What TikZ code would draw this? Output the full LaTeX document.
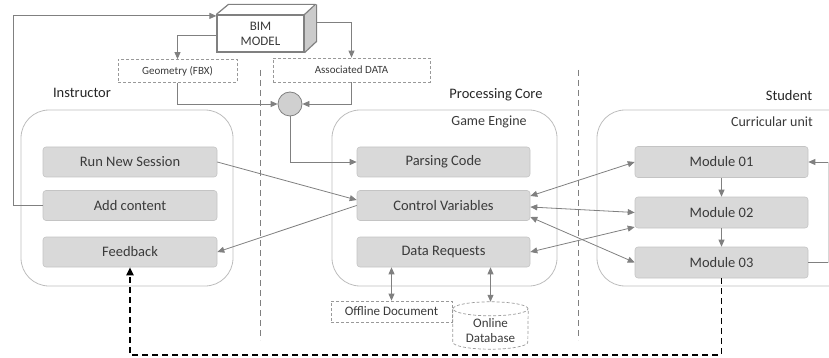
\documentclass[tikz,border=0pt]{standalone}
\usepackage{fontspec}
\setmainfont{Carlito}
\usetikzlibrary{arrows.meta,calc}
\definecolor{boxfill}{HTML}{D9D9D9}
\definecolor{boxline}{HTML}{C4C4C4}
\definecolor{txtgray}{HTML}{3A3A3A}
\definecolor{lngray}{HTML}{808080}
\definecolor{contline}{HTML}{BDBDBD}
\begin{document}
\begin{tikzpicture}[x=1pt,y=-1pt,
  stepbox/.style={rectangle, rounded corners=3pt, fill=boxfill, draw=boxline, line width=0.6pt,
    minimum width=173pt, minimum height=30pt, inner sep=0pt, text=txtgray,
    font=\fontsize{14.5}{16}\selectfont},
  container/.style={rectangle, rounded corners=28pt, draw=contline, line width=0.8pt,
    minimum height=176pt, inner sep=0pt},
  dashbox/.style={rectangle, draw=lngray!80, dash pattern=on 3pt off 2pt, line width=0.7pt,
    inner sep=0pt, text=txtgray, font=\fontsize{11}{13}\selectfont},
  sect/.style={font=\fontsize{14.5}{16}\selectfont, text=black!85},
  sub/.style={font=\fontsize{14}{16}\selectfont, text=txtgray},
  garrow/.style={draw=lngray, line width=0.8pt, -{Triangle[length=7pt,width=6pt]}, color=lngray},
  darrow/.style={draw=lngray, line width=0.8pt, {Triangle[length=7pt,width=6pt]}-{Triangle[length=7pt,width=6pt]}, color=lngray},
  gline/.style={draw=lngray, line width=0.8pt},
  sepline/.style={draw=lngray, line width=1pt, dash pattern=on 6pt off 4pt},
  blackdash/.style={draw=black, line width=1.8pt, dash pattern=on 6pt off 4pt, -{Triangle[length=8pt,width=7pt]}}
]
\useasboundingbox (0,0) rectangle (829,358);
\clip (0,0) rectangle (829,358);

% separators
\coordinate (s1t) at (260,70); \coordinate (s1b) at (260,340);
\coordinate (s2t) at (578,70); \coordinate (s2b) at (578,340);
\draw[sepline] (s1t) -- (s1b);
\draw[sepline] (s2t) -- (s2b);

% containers
\node[container, minimum width=212pt] (cinst) at (127,198) {};
\node[container, minimum width=225pt] (cproc) at (444.5,198) {};
\node[container, minimum width=263pt] (cstud) at (728.5,198) {};

% section labels
\node[sect] (linst) at (82,93) {Instructor};
\node[sect] (lproc) at (496,95) {Processing Core};
\node[sect] (lstud) at (789,96) {Student};
\node[sub] (lge) at (489,122) {Game Engine};
\node[sub] (lcu) at (772,122) {Curricular unit};

% instructor boxes
\node[stepbox, minimum width=174pt] (rns) at (130,162) {Run New Session};
\node[stepbox, minimum width=174pt] (add) at (130,205.5) {Add content};
\node[stepbox, minimum width=174pt] (fb) at (130,252) {Feedback};

% processing boxes
\node[stepbox] (pc) at (443.5,162) {Parsing Code};
\node[stepbox] (cv) at (443.5,205.5) {Control Variables};
\node[stepbox] (dr) at (443.5,252) {Data Requests};

% modules
\node[stepbox, minimum height=31pt] (m1) at (721.5,162) {Module 01};
\node[stepbox, minimum height=31pt] (m2) at (721.5,212.5) {Module 02};
\node[stepbox, minimum height=31pt] (m3) at (721.5,262.5) {Module 03};

% BIM model box
\fill[white] (217,15) -- (229,5) -- (316,5) -- (304,15) -- cycle;
\fill[boxfill!85!gray] (304,15) -- (316,5) -- (316,42) -- (304,52) -- cycle;
\node[rectangle, draw=lngray, line width=1.2pt, fill=white, minimum width=87pt, minimum height=37pt,
  inner sep=0pt, align=center, text=txtgray, font=\fontsize{13}{15}\selectfont] (bim) at (260.5,33.5) {BIM\\MODEL};
\draw[lngray, line width=1.2pt, line join=round] (bim.north west) -- ++(12,-10) -- ++(87,0) -- (bim.north east);
\draw[lngray, line width=1.2pt, line join=round] ($(bim.north east)+(12,-10)$) -- ++(0,37) -- (bim.south east);

% geometry / data
\node[dashbox, minimum width=119pt, minimum height=23pt] (geo) at (177.5,71) {Geometry (FBX)};
\node[dashbox, minimum width=157pt, minimum height=24pt] (data) at (351.5,70) {Associated DATA};
\node[circle, draw=lngray, fill=boxfill!90!gray, line width=0.8pt, minimum size=24pt, inner sep=0pt] (circ) at (290,104) {};

\coordinate (bimside) at (316,22);
\coordinate (lc) at (13,100);
\draw[garrow] ([yshift=-1.5pt]bim.west) -| (geo.north);
\draw[garrow] (bimside) -| (data.north);
\draw[garrow] (geo.south) |- (circ.west);
\draw[garrow] (data.south) |- (circ.east);
\draw[garrow] (circ.south) |- (pc.west);
\draw[garrow] (add.west) -- (add.west -| lc) |- ([yshift=-1.5pt]bim.north west);

% instructor <-> processing
\draw[garrow] (rns.east) -- ([yshift=5.5pt]cv.west);
\draw[garrow] (cv.west) -- (fb.east);

% processing <-> modules
\draw[darrow] ([yshift=9.5pt]cv.east) -- (m1.west);
\draw[darrow] ([yshift=-1.5pt]cv.east) -- (m2.west);
\draw[darrow] ([yshift=-11.5pt]cv.east) -- (m3.west);
\draw[darrow] (dr.east) -- ([yshift=-14.5pt]m2.west);

% module chain
\draw[garrow] (m1.south) -- (m2.north);
\draw[garrow] (m2.south) -- (m3.north);
\coordinate (rc) at (828,200);
\draw[gline] (m3.east) -- (m3.east -| rc);
\draw[draw=contline!60, line width=0.4pt] (m3.east -| rc) -- (m1.east -| rc);
\draw[garrow] (m1.east -| rc) -- (m1.east);

% external data
\node[dashbox, minimum width=121pt, minimum height=21pt, font=\fontsize{13}{15}\selectfont] (off) at (391.5,311.5) {Offline Document};
\node[rectangle, minimum width=75pt, minimum height=47pt, inner sep=0pt] (db) at (490.5,325.5) {};
\node[align=center, text=txtgray, font=\fontsize{13}{15}\selectfont, inner sep=0pt] (dbtext) at (490.5,331) {Online\\Database};
\draw[lngray!80, dash pattern=on 3pt off 2pt, line width=0.7pt] ([yshift=-7pt]db.north) ellipse [x radius=37.5pt, y radius=7pt];
\draw[lngray!80, dash pattern=on 3pt off 2pt, line width=0.7pt] ([yshift=-7pt]db.north west) -- ([yshift=7pt]db.south west)
  arc[start angle=180, end angle=360, x radius=37.5pt, y radius=7pt] -- ([yshift=-7pt]db.north east);
\draw[darrow] (dr.south -| off.north) -- (off.north);
\draw[darrow] (dr.south -| db.north) -- (db.north);

% feedback loop
\coordinate (low) at (500,355);
\draw[blackdash] (m3.south) -- (m3.south |- low) -| (fb.south);
\end{tikzpicture}
\end{document}
